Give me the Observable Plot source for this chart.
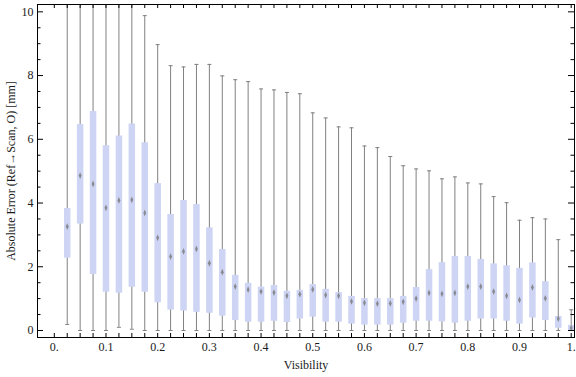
<!DOCTYPE html>
<html>
<head>
<meta charset="utf-8">
<script src="https://cdn.jsdelivr.net/npm/d3@7"></script>
<script src="https://cdn.jsdelivr.net/npm/@observablehq/plot@0.6"></script>
<style>
  html, body { margin: 0; padding: 0; background: #fff; }
</style>
</head>
<body>
<div id="chart"></div>
<script>
// ---- data ----
const visibility = [0.025,0.05,0.075,0.1,0.125,0.15,0.175,0.2,0.225,0.25,0.275,0.3,0.325,0.35,0.375,0.4,0.425,0.45,0.475,0.5,0.525,0.55,0.575,0.6,0.625,0.65,0.675,0.7,0.725,0.75,0.775,0.8,0.825,0.85,0.875,0.9,0.925,0.95,0.975,1.0];
const whiskerHigh = [11,11,11,11,11,11,9.88,8.97,8.31,8.27,8.35,8.35,7.99,7.87,7.81,7.58,7.55,7.47,7.43,6.83,6.67,6.39,6.36,5.79,5.74,5.46,5.17,5.07,5.01,4.76,4.82,4.63,4.60,4.20,4.01,3.46,3.54,3.50,2.85,0.65];
const q3 = [3.83,6.46,6.87,5.80,6.10,6.48,5.89,4.61,3.64,4.08,3.95,3.22,2.54,1.73,1.48,1.36,1.41,1.23,1.26,1.44,1.29,1.19,1.07,1.00,1.00,1.00,1.07,1.35,1.91,2.13,2.32,2.32,2.23,2.09,2.03,1.95,2.12,1.53,0.44,0.16];
const median = [3.26,4.86,4.60,3.85,4.08,4.10,3.69,2.91,2.32,2.48,2.56,2.11,1.83,1.38,1.28,1.22,1.19,1.09,1.14,1.29,1.11,1.09,0.91,0.87,0.84,0.85,0.90,1.00,1.18,1.15,1.18,1.38,1.38,1.22,1.09,0.96,1.35,1.01,0.37,0.08];
const q1 = [2.27,3.34,1.76,1.20,1.17,1.36,1.20,0.87,0.64,0.61,0.57,0.54,0.45,0.31,0.26,0.26,0.29,0.25,0.36,0.42,0.26,0.26,0.20,0.17,0.17,0.17,0.23,0.29,0.29,0.27,0.23,0.29,0.36,0.36,0.29,0.20,0.39,0.31,0.07,0.00];
const whiskerLow = [0.19,0,0,0,0.10,0.04,0,0,0,0,0,0,0,0,0,0,0,0,0,0,0,0,0,0,0,0,0,0,0,0,0,0,0,0,0,0,0,0,0,0];

const xLabelTicks = [0,0.1,0.2,0.3,0.4,0.5,0.6,0.7,0.8,0.9,1];
const xLabels = ["0.","0.1","0.2","0.3","0.4","0.5","0.6","0.7","0.8","0.9","1."];
const yMajorTicks = [0,2,4,6,8,10];
const xLabel = "Visibility";
const yLabel = "Absolute Error (Ref\u2192Scan, O) [mm]";

// ---- build table ----
const rows = visibility.map((v, i) => ({
  v, hi: whiskerHigh[i], q3: q3[i], med: median[i], q1: q1[i], lo: whiskerLow[i]
}));
const xMinorTicks = d3.range(0, 41).map(i => +(i * 0.025).toFixed(3));
const yMinorTicks = d3.range(0, 21).map(i => i * 0.5).filter(d => d % 2 !== 0);

const W = 576, H = 377;
const mL = 37, mR = 2, mT = 4, mB = 40;
const fW = W - mL - mR, fH = H - mT - mB;

const capSymbol = {
  draw(ctx, size) {
    const r = Math.sqrt(size / Math.PI);
    ctx.moveTo(-r, 0); ctx.lineTo(r, 0);
  }
};
const medSymbol = {
  draw(ctx, size) {
    const r = Math.sqrt(size / Math.PI);
    ctx.moveTo(0, -1.3 * r); ctx.lineTo(0.55 * r, 0); ctx.lineTo(0, 1.3 * r); ctx.lineTo(-0.55 * r, 0); ctx.closePath();
  }
};

const whiskerColor = "#808080";
const boxColor = "#cdd4f4";
const textColor = "#1a1a1a";
const font = "Liberation Serif, Times New Roman, serif";

const chart = Plot.plot({
  width: W, height: H,
  marginLeft: mL, marginRight: mR, marginTop: mT, marginBottom: mB,
  style: { fontFamily: font, fontSize: "12px", color: textColor, background: "#fff" },
  x: { domain: [-0.0325, 1.0064], axis: null },
  y: { domain: [-0.22, 10.23], axis: null },
  marks: [
    // whiskers
    Plot.ruleX(rows, { x: "v", y1: "lo", y2: "hi", stroke: whiskerColor, strokeWidth: 1, clip: true }),
    Plot.dot(rows, { x: "v", y: "hi", symbol: capSymbol, r: 2, stroke: whiskerColor, strokeWidth: 1, clip: true }),
    Plot.dot(rows, { x: "v", y: "lo", symbol: capSymbol, r: 2, stroke: whiskerColor, strokeWidth: 1, clip: true }),
    // boxes
    Plot.ruleX(rows, { x: "v", y1: "q1", y2: "q3", stroke: boxColor, strokeWidth: 6.5, strokeLinecap: "butt", clip: true }),
    // medians
    Plot.dot(rows, { x: "v", y: "med", symbol: medSymbol, r: 2.6, fill: "#7d7d7d", fillOpacity: 0.85, stroke: "none", clip: true }),
    // frame
    Plot.frame({ stroke: "#000", strokeWidth: 1 }),
    // bottom/top ticks (inward)
    Plot.tickX(xMinorTicks, { x: d => d, insetTop: fH - 4, stroke: "#000", strokeWidth: 1 }),
    Plot.tickX(xMinorTicks, { x: d => d, insetBottom: fH - 4, stroke: "#000", strokeWidth: 1 }),
    // left/right ticks (inward)
    Plot.tickY(yMajorTicks, { y: d => d, insetRight: fW - 6, stroke: "#000", strokeWidth: 1 }),
    Plot.tickY(yMinorTicks, { y: d => d, insetRight: fW - 3.5, stroke: "#000", strokeWidth: 1 }),
    Plot.tickY(yMajorTicks, { y: d => d, insetLeft: fW - 6, stroke: "#000", strokeWidth: 1 }),
    Plot.tickY(yMinorTicks, { y: d => d, insetLeft: fW - 3.5, stroke: "#000", strokeWidth: 1 }),
    // tick labels
    Plot.axisX(xLabelTicks, { tickSize: 0, tickPadding: 5, tickFormat: (d, i) => xLabels[i], label: null, fill: textColor, fontSize: 12, fontFamily: font }),
    Plot.axisY(yMajorTicks, { tickSize: 0, tickPadding: 4, label: null, fill: textColor, fontSize: 12, fontFamily: font }),
    // axis titles
    Plot.text([xLabel], { frameAnchor: "bottom", dy: 31, text: d => d, textAnchor: "middle", fill: textColor, fontSize: 12, fontFamily: font }),
    Plot.text([yLabel], { frameAnchor: "left", dx: -26, rotate: -90, text: d => d, textAnchor: "middle", fill: textColor, fontSize: 12, fontFamily: font })
  ]
});
document.getElementById("chart").appendChild(chart);
</script>
</body>
</html>
